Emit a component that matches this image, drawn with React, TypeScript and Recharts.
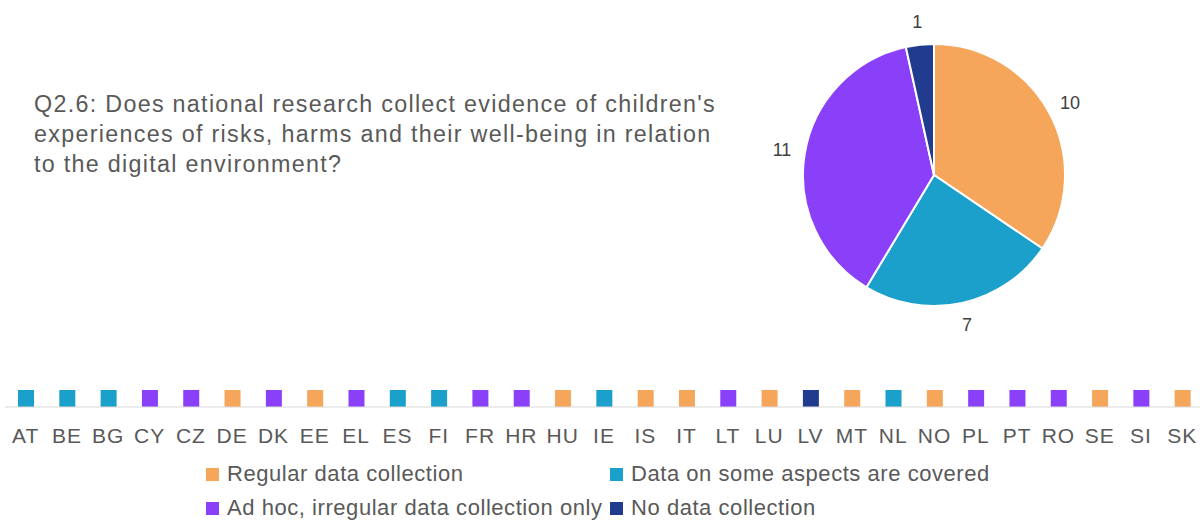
import { PieChart, Pie, Cell, BarChart, Bar, XAxis, YAxis } from "recharts";

const titleLines = [
  "Q2.6: Does national research collect evidence of children's",
  "experiences of risks, harms and their well-being in relation",
  "to the digital environment?",
];

const countries = [
  "AT", "BE", "BG", "CY", "CZ", "DE", "DK", "EE", "EL", "ES",
  "FI", "FR", "HR", "HU", "IE", "IS", "IT", "LT", "LU", "LV",
  "MT", "NL", "NO", "PL", "PT", "RO", "SE", "SI", "SK",
];

// answer per country, same order as above
const countryStatus = [
  "some", "some", "some", "adhoc", "adhoc", "regular", "adhoc", "regular", "adhoc", "some",
  "some", "adhoc", "adhoc", "regular", "some", "regular", "regular", "adhoc", "regular", "none",
  "regular", "some", "regular", "adhoc", "adhoc", "adhoc", "regular", "adhoc", "regular",
];

const statusKeys = ["regular", "some", "adhoc", "none"];
const statusLabels = [
  "Regular data collection",
  "Data on some aspects are covered",
  "Ad hoc, irregular data collection only",
  "No data collection",
];

const COLORS: Record<string, string> = {
  regular: "#F5A65B",
  some: "#1AA0CB",
  adhoc: "#8A40F8",
  none: "#213B8F",
};

const FONT = '"Liberation Sans", Arial, sans-serif';
const TEXT = "#595959";
const RAD = Math.PI / 180;

const pieData = statusKeys.map((k, i) => ({
  key: k,
  name: statusLabels[i],
  value: countryStatus.filter((s) => s === k).length,
}));

const stripData = countries.map((c, i) => ({ country: c, status: countryStatus[i], v: 1 }));

function PieLabel(p: any) {
  const r = p.outerRadius + 23;
  const x = p.cx + r * Math.cos(-p.midAngle * RAD);
  const y = p.cy + r * Math.sin(-p.midAngle * RAD);
  return (
    <text x={x} y={y} fill="#404040" fontSize={18} fontFamily={FONT} textAnchor="middle" dominantBaseline="central">
      {p.value}
    </text>
  );
}

export default function App() {
  return (
    <div
      style={{
        position: "absolute",
        left: 0,
        top: 0,
        width: 1200,
        height: 520,
        overflow: "hidden",
        background: "#fff",
        fontFamily: FONT,
      }}
    >
      {/* question text */}
      <div
        style={{
          position: "absolute",
          left: 34,
          top: 89,
          fontSize: 23.3,
          lineHeight: "30px",
          letterSpacing: 1.3,
          color: TEXT,
          whiteSpace: "nowrap",
        }}
      >
        {titleLines.map((l) => (
          <div key={l}>{l}</div>
        ))}
      </div>

      {/* pie */}
      <div style={{ position: "absolute", left: 734, top: 0 }}>
        <PieChart width={400} height={340} margin={{ top: 0, right: 0, bottom: 0, left: 0 }}>
          <Pie
            data={pieData}
            dataKey="value"
            cx={200}
            cy={175}
            outerRadius={131}
            startAngle={90}
            endAngle={-270}
            stroke="#fff"
            strokeWidth={2}
            label={PieLabel}
            labelLine={false}
            isAnimationActive={false}
          >
            {pieData.map((d) => (
              <Cell key={d.key} fill={COLORS[d.key]} />
            ))}
          </Pie>
        </PieChart>
      </div>

      {/* country strip */}
      <div style={{ position: "absolute", left: 0, top: 380 }}>
        <BarChart width={1204} height={77} data={stripData} margin={{ top: 10, right: 1, bottom: 0, left: 5 }}>
          <XAxis
            dataKey="country"
            height={50}
            interval={0}
            tickLine={false}
            tickSize={0}
            tickMargin={21}
            axisLine={{ stroke: "#d9d9d9" }}
            tick={{ fontSize: 21, fill: TEXT, letterSpacing: 1 }}
          />
          <YAxis hide domain={[0, 1]} />
          <Bar dataKey="v" barSize={16} isAnimationActive={false}>
            {stripData.map((d) => (
              <Cell key={d.country} fill={COLORS[d.status]} />
            ))}
          </Bar>
        </BarChart>
      </div>

      {/* legend */}
      <div
        style={{
          position: "absolute",
          left: 206,
          top: 463,
          display: "grid",
          gridTemplateColumns: "404px auto",
          rowGap: 12,
          fontSize: 22,
          lineHeight: "22px",
          letterSpacing: 0.55,
          color: TEXT,
          whiteSpace: "nowrap",
        }}
      >
        {statusKeys.map((k, i) => (
          <div key={k}>
            <span
              style={{
                display: "inline-block",
                width: 13,
                height: 13,
                marginRight: 8,
                background: COLORS[k],
              }}
            />
            {statusLabels[i]}
          </div>
        ))}
      </div>
    </div>
  );
}
